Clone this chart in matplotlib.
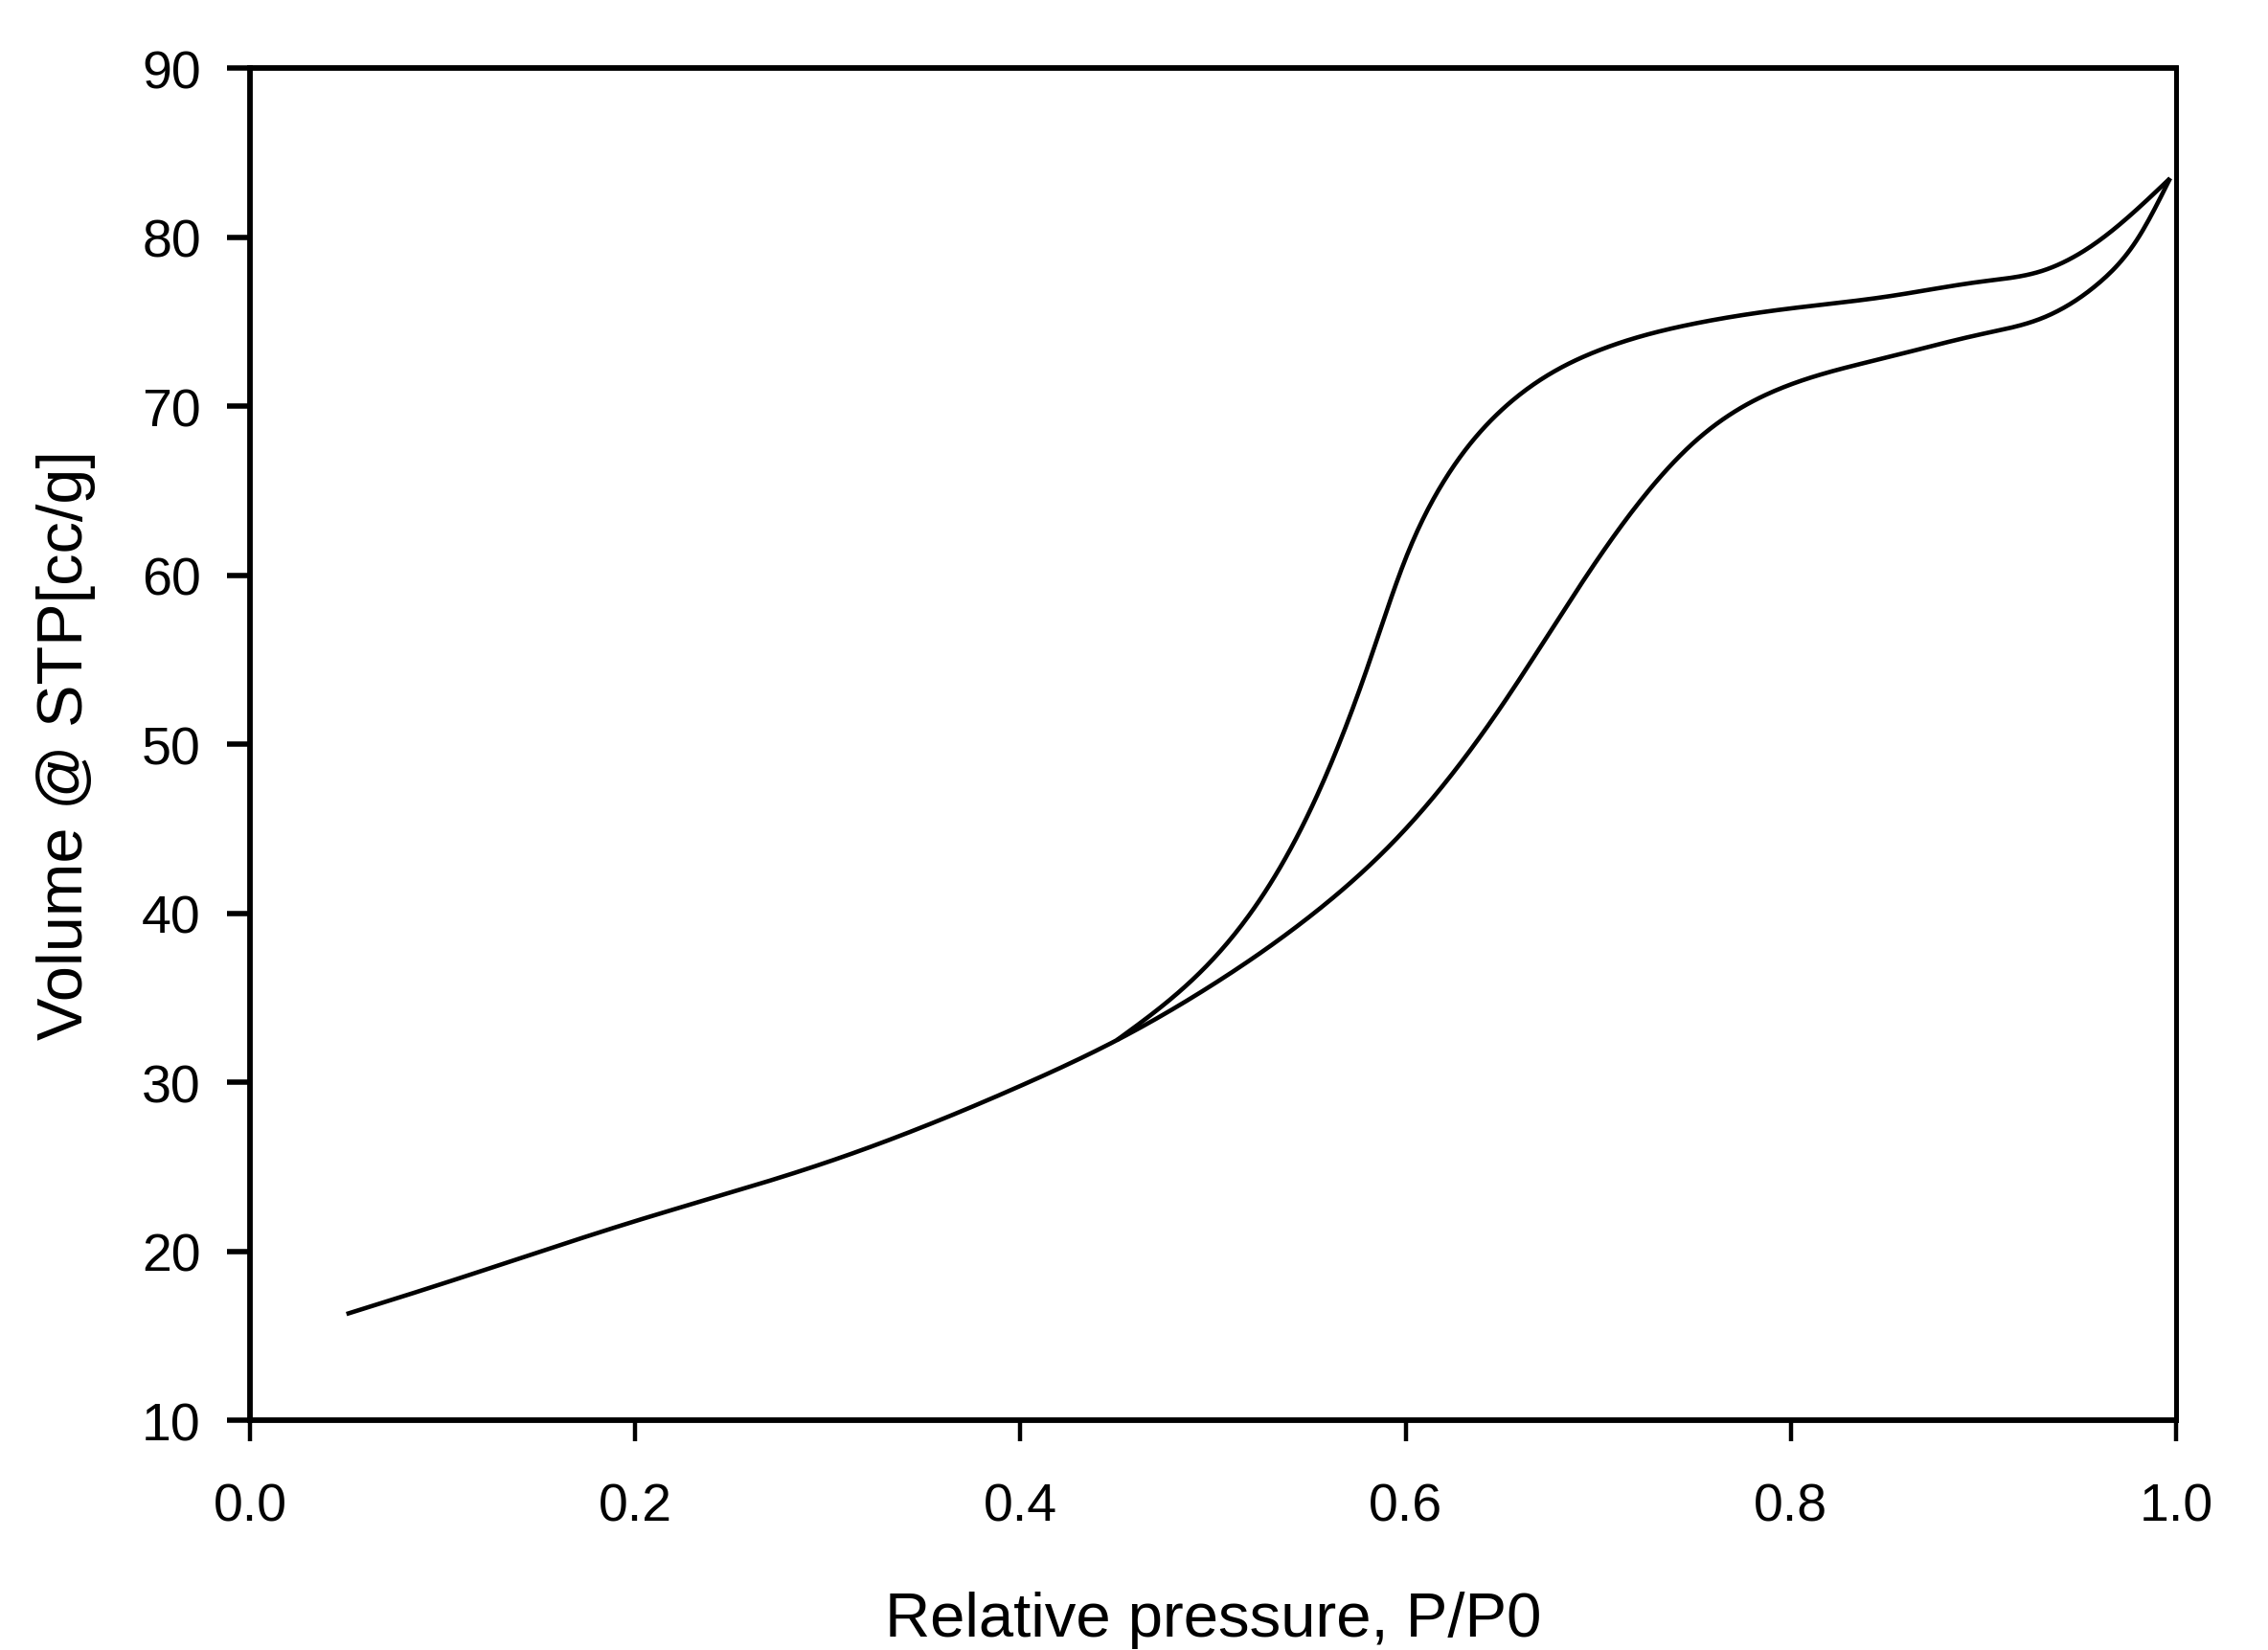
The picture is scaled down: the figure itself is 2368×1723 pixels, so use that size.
import numpy as np
import matplotlib.pyplot as plt

# adsorption branch (lower)
p_ads = [0.05, 0.10, 0.20, 0.30, 0.40, 0.45, 0.50, 0.55, 0.60, 0.65, 0.70,
         0.75, 0.80, 0.85, 0.90, 0.93, 0.96, 0.98, 0.997]
v_ads = [16.3, 18.1, 21.8, 25.3, 29.8, 32.5, 35.8, 39.8, 45.0, 52.3, 61.0,
         67.9, 71.3, 72.9, 74.3, 75.2, 77.3, 79.9, 83.5]

# desorption branch (upper)
p_des = [0.45, 0.50, 0.55, 0.58, 0.60, 0.62, 0.65, 0.70, 0.75, 0.80, 0.85,
         0.90, 0.93, 0.96, 0.997]
v_des = [32.5, 37.3, 46.0, 54.5, 61.0, 65.6, 69.8, 73.3, 74.9, 75.8, 76.5,
         77.4, 78.0, 79.8, 83.5]

xticks = [0.0, 0.2, 0.4, 0.6, 0.8, 1.0]
yticks = [10, 20, 30, 40, 50, 60, 70, 80, 90]


def spline(x, y, n=600):
    # natural cubic spline through the read points
    x = np.asarray(x, float)
    y = np.asarray(y, float)
    h = np.diff(x)
    size = len(x)
    a = np.zeros((size, size))
    b = np.zeros(size)
    a[0, 0] = a[-1, -1] = 1.0
    for i in range(1, size - 1):
        a[i, i - 1] = h[i - 1]
        a[i, i] = 2 * (h[i - 1] + h[i])
        a[i, i + 1] = h[i]
        b[i] = 6 * ((y[i + 1] - y[i]) / h[i] - (y[i] - y[i - 1]) / h[i - 1])
    m = np.linalg.solve(a, b)
    xs = np.linspace(x[0], x[-1], n)
    k = np.clip(np.searchsorted(x, xs) - 1, 0, size - 2)
    dx1 = x[k + 1] - xs
    dx0 = xs - x[k]
    hk = h[k]
    ys = (m[k] * dx1**3 / (6 * hk) + m[k + 1] * dx0**3 / (6 * hk)
          + (y[k] / hk - m[k] * hk / 6) * dx1 + (y[k + 1] / hk - m[k + 1] * hk / 6) * dx0)
    return xs, ys


plt.rcParams['font.family'] = ['Liberation Sans', 'DejaVu Sans']

fig = plt.figure(figsize=(23.68, 17.24), dpi=100)
ax = fig.add_axes([0.1103, 0.139, 0.8491, 0.819])

xa, ya = spline(p_ads, v_ads)
xd, yd = spline(p_des, v_des)
ax.plot(xa, ya, color='black', lw=3.3, solid_capstyle='butt')
ax.plot(xd, yd, color='black', lw=3.3, solid_capstyle='butt')

ax.set_xlim(0, 1.0)
ax.set_ylim(10, 90)
ax.set_xticks(xticks)
ax.set_xticklabels([f"{t:.1f}" for t in xticks])
ax.set_yticks(yticks)

for side in ['left', 'bottom', 'top']:
    ax.spines[side].set_linewidth(4.2)
ax.spines['right'].set_linewidth(3.6)

ax.tick_params(axis='x', direction='out', length=16, width=3.2, pad=30, labelsize=40)
ax.tick_params(axis='y', direction='out', length=17, width=4.0, pad=20, labelsize=40)

ax.set_xlabel("Relative pressure, P/P0", fontsize=47)
ax.set_ylabel("Volume @ STP[cc/g]", fontsize=48)
ax.xaxis.set_label_coords(0.5, -0.147)
ax.xaxis.label.set_verticalalignment('center')
ax.yaxis.set_label_coords(-0.0957, 0.5)
ax.yaxis.label.set_verticalalignment('center')

fig.savefig("out.png", dpi=100)
